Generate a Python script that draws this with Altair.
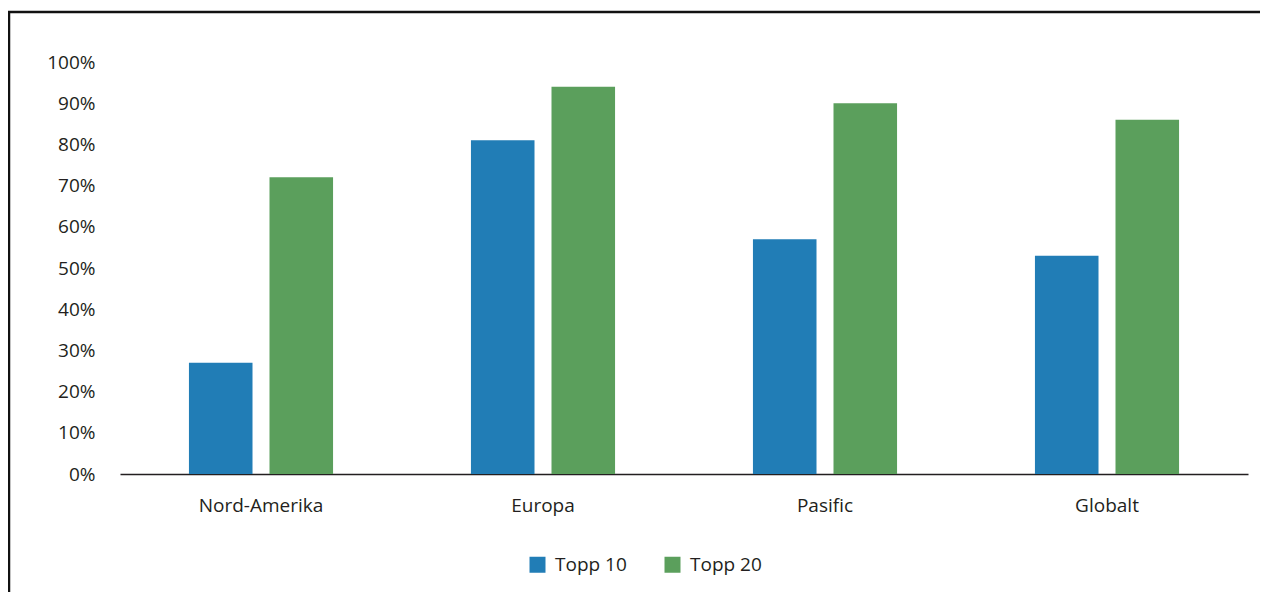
import altair as alt
import pandas as pd

regions = ["Nord-Amerika", "Europa", "Pasific", "Globalt"]
series = ["Topp 10", "Topp 20"]
topp10 = [0.27, 0.81, 0.57, 0.53]
topp20 = [0.72, 0.94, 0.90, 0.86]
colors = ["#217db6", "#5b9f5c"]
y_ticks = [i / 10 for i in range(11)]

rows = []
for r, a, b in zip(regions, topp10, topp20):
    rows.append({"region": r, "series": series[0], "value": a})
    rows.append({"region": r, "series": series[1], "value": b})
df = pd.DataFrame(rows)

FONT = "Open Sans"
TXT = "#231f20"
FRAME = "#111111"

bars = alt.Chart(df).mark_bar().encode(
    x=alt.X("region:N", sort=regions, title=None,
            scale=alt.Scale(paddingInner=0.489, paddingOuter=0.2445),
            axis=alt.Axis(labelAngle=0, labelFont=FONT, labelFontSize=19, labelColor=TXT,
                          labelPadding=22, ticks=False, domainColor=TXT, domainWidth=1.5,
                          grid=False)),
    xOffset=alt.XOffset("series:N", sort=series,
                        scale=alt.Scale(paddingInner=0.211, paddingOuter=0)),
    y=alt.Y("value:Q", title=None, scale=alt.Scale(domain=[0, 1], nice=False),
            axis=alt.Axis(values=y_ticks, format=".0%", labelFont=FONT, labelFontSize=19,
                          labelColor=TXT, labelPadding=25, ticks=False, domain=False,
                          grid=False)),
    color=alt.Color("series:N", sort=series,
                    scale=alt.Scale(domain=series, range=colors),
                    legend=alt.Legend(title=None, orient="none", legendX=408, legendY=493,
                                      direction="horizontal", symbolType="square",
                                      symbolSize=256, symbolStrokeWidth=0,
                                      labelFont=FONT, labelFontSize=19, labelColor=TXT,
                                      labelOffset=8, columnPadding=36, padding=0)),
)

frame_data = alt.Data(values=[{"k": 0}])
top_line = alt.Chart(frame_data).mark_rule(color=FRAME, strokeWidth=2.5).encode(
    x=alt.value(-112), x2=alt.value(1200), y=alt.value(-50))
left_line = alt.Chart(frame_data).mark_rule(color=FRAME, strokeWidth=2.5).encode(
    x=alt.value(-111), y=alt.value(-51), y2=alt.value(560))

chart = alt.layer(bars, top_line, left_line).properties(
    width=1128, height=412,
    autosize=alt.AutoSizeParams(type="none"),
    padding={"left": 112, "top": 54, "right": 12, "bottom": 118},
    background="white",
).configure_view(stroke=None)

chart.save("out.html", embed_options={"renderer": "svg", "actions": False})
